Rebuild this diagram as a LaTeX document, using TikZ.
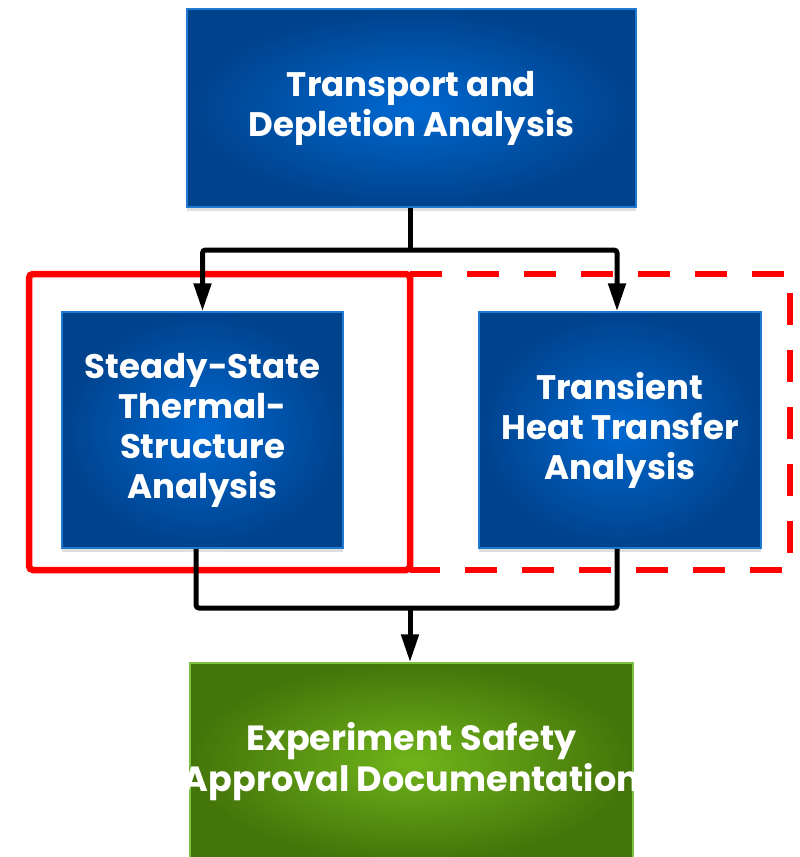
\documentclass[tikz,border=0pt]{standalone}
\usepackage{fontspec}
\setmainfont{Poppins}
\usetikzlibrary{arrows.meta,shadows}
\definecolor{bluein}{HTML}{0068D0}
\definecolor{blueout}{HTML}{00428C}
\definecolor{blueedge}{HTML}{1F7AD0}
\definecolor{greenin}{HTML}{70B41A}
\definecolor{greenout}{HTML}{44750A}
\definecolor{greenedge}{HTML}{7CC242}
\definecolor{redline}{HTML}{FF0000}
\tikzset{
  bluebox/.style={rectangle, draw=blueedge, line width=1.5pt, inner color=bluein, outer color=blueout,
    text=white, font=\bfseries\fontsize{34}{40}\selectfont, align=center,
    drop shadow={opacity=0.25, shadow xshift=0pt, shadow yshift=-4pt}},
  greenbox/.style={rectangle, draw=greenedge, line width=1.5pt, inner color=greenin, outer color=greenout},
  greentext/.style={text=white, font=\bfseries\fontsize{35}{41}\selectfont, align=center, inner sep=0pt},
  conn/.style={draw=black, line width=5pt, rounded corners=3pt},
  arr/.style={conn, -{Triangle[length=28pt,width=17pt]}},
  redsolid/.style={draw=redline, line width=6.5pt, rounded corners=4pt},
  reddash/.style={draw=redline, line width=6.5pt, dash pattern=on 32pt off 25pt}
}
\begin{document}
\begin{tikzpicture}[x=1pt,y=-1pt]
\clip (0,0) rectangle (800,857);
\fill[white] (0,0) rectangle (800,857);
% red group frames
\draw[redsolid] (29,274) rectangle (410,570);
\draw[reddash] (410,274) -- (790,274) -- (790,570) -- (410,570);
% boxes
\node[bluebox, minimum width=449pt, minimum height=198pt] (tda) at (411.5,108) {Transport and\\Depletion Analysis};
\node[bluebox, minimum width=281pt, minimum height=236pt] (sst) at (202.5,430) {Steady-State\\Thermal-\\Structure\\Analysis};
\node[bluebox, minimum width=282pt, minimum height=236pt] (tht) at (620,430) {Transient\\Heat Transfer\\Analysis};
\node[greenbox, minimum width=443pt, minimum height=198pt] (esa) at (411.5,762) {};
\node[greentext] (esatext) at (esa.center) {Experiment Safety\\Approval Documentation};
% connectors
\coordinate (j1) at (410,250);
\coordinate (j2) at (410,608);
\draw[conn] ([xshift=-1.5pt]tda.south) -- (j1);
\draw[arr] (j1) -| (sst.north);
\draw[arr] (j1) -| ([xshift=-3pt]tht.north);
\draw[conn] ([xshift=-6.5pt]sst.south) |- (j2);
\draw[conn] ([xshift=-3pt]tht.south) |- (j2);
\draw[arr] (j2) -- ([xshift=-1.5pt]esa.north);
\end{tikzpicture}
\end{document}
